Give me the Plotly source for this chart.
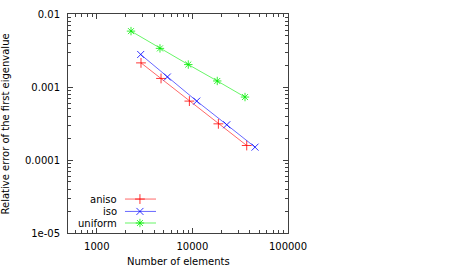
import plotly.graph_objects as go

# Data
aniso_n = [2900, 4700, 9300, 18700, 37000]
aniso_err = [0.00214, 0.00131, 0.000641, 0.000313, 0.000158]
iso_n = [2880, 5470, 11100, 22900, 45200]
iso_err = [0.00279, 0.00137, 0.000641, 0.000304, 0.000150]
uniform_n = [2280, 4580, 9060, 18200, 35500]
uniform_err = [0.00583, 0.00338, 0.00203, 0.00121, 0.000728]

series_names = ["aniso", "iso", "uniform"]
series_colors = ["#ff0000", "#0000ff", "#00ee00"]
series_symbols = ["cross-thin-open", "x-thin-open", "asterisk-open"]

x_tickvals = [1000, 10000, 100000]
x_ticktext = ["1000", "10000", "100000"]
y_tickvals = [0.01, 0.001, 0.0001, 0.00001]
y_ticktext = ["0.01", "0.001", "0.0001", "1e-05"]

x_title = "Number of elements"
y_title = "Relative error of the first eigenvalue"

FONT = "DejaVu Sans"
FS = 10
AXC = "#404040"
MS = 7

fig = go.Figure()
data = [(aniso_n, aniso_err), (iso_n, iso_err), (uniform_n, uniform_err)]
for (xs, ys), name, col, sym in zip(data, series_names, series_colors, series_symbols):
    fig.add_trace(go.Scatter(
        x=xs, y=ys, mode="lines+markers", name=name, showlegend=False,
        line=dict(color=col, width=0.6),
        marker=dict(symbol=sym, size=MS, color=col, line=dict(color=col, width=0.8)),
    ))

# custom gnuplot-style legend (text left, sample right), on a hidden overlay axis
leg_rows = [0.155, 0.0985, 0.0456]
leg_line = [0.259, 0.4]
leg_mark = 0.327
leg_text_x = 0.23
for name, col, sym, yy in zip(series_names, series_colors, series_symbols, leg_rows):
    fig.add_trace(go.Scatter(
        x=leg_line, y=[yy, yy], mode="lines", xaxis="x2", yaxis="y2",
        line=dict(color=col, width=0.6), showlegend=False, hoverinfo="skip"))
    fig.add_trace(go.Scatter(
        x=[leg_mark], y=[yy], mode="markers", xaxis="x2", yaxis="y2",
        marker=dict(symbol=sym, size=MS, color=col, line=dict(color=col, width=0.8)),
        showlegend=False, hoverinfo="skip"))
    fig.add_annotation(x=leg_text_x, y=yy, xref="paper", yref="paper", text=name,
                       showarrow=False, xanchor="right", yanchor="middle",
                       font=dict(family=FONT, size=FS, color="#000000"))

# axis titles
fig.add_annotation(x=0.5, y=-0.131, xref="paper", yref="paper", text=x_title,
                   showarrow=False, xanchor="center", yanchor="middle",
                   font=dict(family=FONT, size=FS, color="#000000"))
fig.add_annotation(x=-0.282, y=0.5, xref="paper", yref="paper", text=y_title,
                   showarrow=False, xanchor="center", yanchor="middle", textangle=-90,
                   font=dict(family=FONT, size=FS, color="#000000"))

def minor_vals(lo, hi):
    out = []
    d = lo
    while d < hi:
        for k in range(2, 10):
            v = k * d
            if v < hi:
                out.append(v)
        d *= 10
    return out

fig.update_layout(
    width=450, height=270,
    margin=dict(l=68, r=162, t=14, b=37),
    paper_bgcolor="white", plot_bgcolor="white",
    font=dict(family=FONT, size=FS, color="#000000"),
    xaxis=dict(
        type="log", range=[2.69897, 5], tickvals=x_tickvals, ticktext=x_ticktext,
        ticks="inside", ticklen=5, tickcolor=AXC, showline=True, linecolor=AXC, linewidth=1,
        mirror="ticks", showgrid=False, zeroline=False, ticklabelstandoff=4, automargin=False,
        minor=dict(tickvals=minor_vals(100, 100000), ticks="inside", ticklen=3, tickcolor=AXC, showgrid=False),
    ),
    yaxis=dict(
        type="log", range=[-5, -2], tickvals=y_tickvals, ticktext=y_ticktext,
        ticks="inside", ticklen=5, tickcolor=AXC, showline=True, linecolor=AXC, linewidth=1,
        mirror="ticks", showgrid=False, zeroline=False, ticklabelstandoff=5, automargin=False,
        minor=dict(tickvals=minor_vals(0.00001, 0.01), ticks="inside", ticklen=3, tickcolor=AXC, showgrid=False),
    ),
    xaxis2=dict(overlaying="x", range=[0, 1], visible=False, fixedrange=True),
    yaxis2=dict(overlaying="y", range=[0, 1], visible=False, fixedrange=True),
)

fig.write_html("out.html", config={"displayModeBar": False},
               post_script="document.body.style.margin='0px';")
